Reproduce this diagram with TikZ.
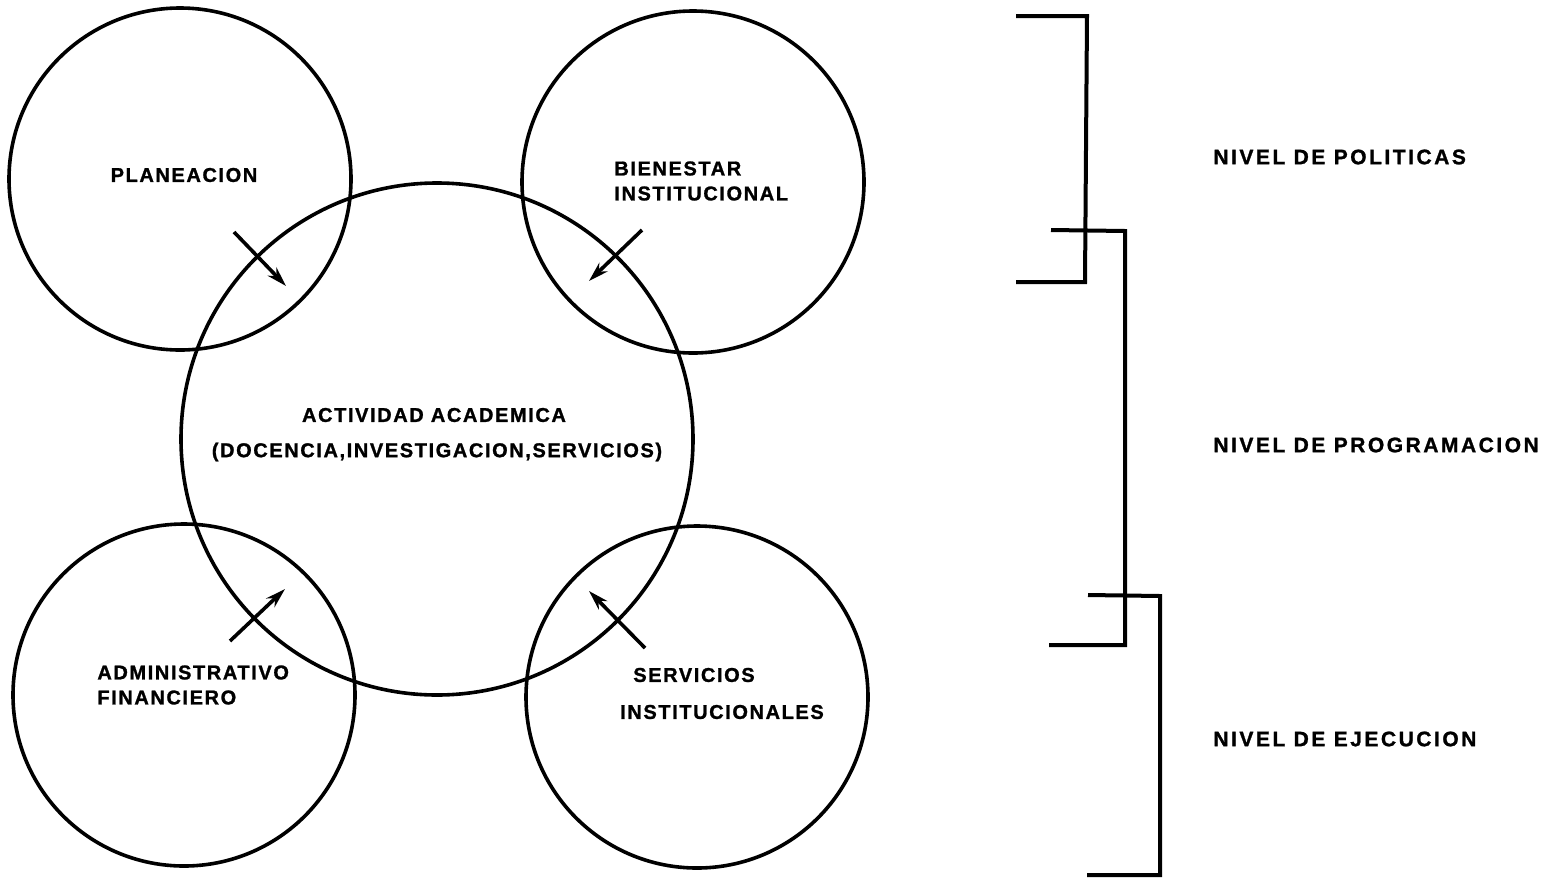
\documentclass[tikz,border=0pt]{standalone}
\usepackage{fontspec}
\setmainfont{Liberation Sans}[BoldFeatures={FakeBold=1.2}]
\newfontfamily\lblfont{Liberation Sans Bold}[LetterSpace=8,FakeBold=1.2]
\newfontfamily\lvlfont{Liberation Sans Bold}[LetterSpace=12,FakeBold=1.2]
\usetikzlibrary{arrows.meta}
\begin{document}
\begin{tikzpicture}[x=0.5pt,y=-0.5pt,
  ring/.style={circle,draw,line width=1.8pt,inner sep=0pt},
  small/.style={ring,minimum size=171pt},
  big/.style={ring,minimum size=256pt},
  lbl/.style={font=\lblfont\fontsize{10}{12.5}\selectfont,inner sep=0pt},
  lvl/.style={font=\lvlfont\fontsize{10.5}{12.5}\selectfont,inner sep=0pt},
  flow/.style={line width=1.8pt,-{Stealth[length=10pt,width=6pt]}},
  brk/.style={line width=2pt,line join=miter}]
\useasboundingbox (0,0) rectangle (1548,879);
% circles
\node[small] (pl) at (180,179) {};
\node[small] (bi) at (693,182) {};
\node[big] (ac) at (437,439) {};
\node[small] (ad) at (184,695) {};
\node[small] (se) at (697,697) {};
% labels
\node[lbl] (tpl) at (184,175) {PLANEACION};
\node[lbl,anchor=west,align=left] (tbi) at (614,181) {BIENESTAR\\INSTITUCIONAL};
\node[lbl] (tac1) at (434,415) {ACTIVIDAD ACADEMICA};
\node[lbl] (tac2) at (437,452) {(DOCENCIA,INVESTIGACION,SERVICIOS)};
\node[lbl,anchor=west,align=left] (tad) at (97,685) {ADMINISTRATIVO\\FINANCIERO};
\node[lbl] (tse1) at (694,675) {SERVICIOS};
\node[lbl] (tse2) at (722,712) {INSTITUCIONALES};
\node[lvl,anchor=west] (n1) at (1213,157) {NIVEL DE POLITICAS};
\node[lvl,anchor=west] (n2) at (1213,445) {NIVEL DE PROGRAMACION};
\node[lvl,anchor=west] (n3) at (1213,739) {NIVEL DE EJECUCION};
% arrows
\coordinate (a1s) at (234,232); \coordinate (a1e) at (286,286);
\coordinate (a2s) at (642,230); \coordinate (a2e) at (589,281);
\coordinate (a3s) at (230,641); \coordinate (a3e) at (285,589);
\coordinate (a4s) at (645,648); \coordinate (a4e) at (589,591);
\draw[flow] (a1s) -- (a1e);
\draw[flow] (a2s) -- (a2e);
\draw[flow] (a3s) -- (a3e);
\draw[flow] (a4s) -- (a4e);
% brackets
\draw[brk] (1016,16) -- (1087,16) -- (1085,282) -- (1016,282);
\draw[brk] (1051,230) -- (1125,231) -- (1125,645) -- (1049,645);
\draw[brk] (1088,595) -- (1160,596) -- (1160,875) -- (1087,875);
\end{tikzpicture}
\end{document}
